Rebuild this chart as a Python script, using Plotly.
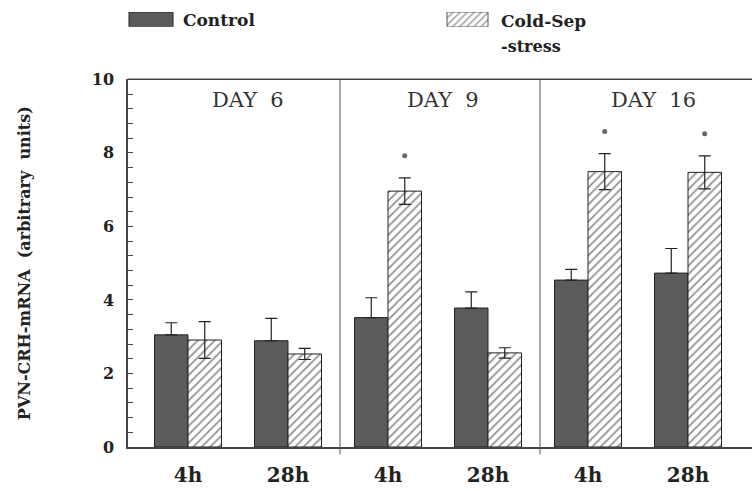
import plotly.graph_objects as go

# ---- data ----
days = ["DAY  6", "DAY  9", "DAY  16"]
times = ["4h", "28h", "4h", "28h", "4h", "28h"]
control = [3.05, 2.89, 3.52, 3.78, 4.54, 4.73]
control_err = [0.33, 0.61, 0.54, 0.44, 0.29, 0.67]
stress = [2.91, 2.53, 6.96, 2.56, 7.49, 7.47]
stress_err = [0.50, 0.15, 0.36, 0.14, 0.49, 0.45]
significant = [False, False, True, False, True, True]

pos = list(range(len(times)))
SERIF = "DejaVu Serif"

# layout geometry (figure pixels)
W, H = 752, 491
ML, MR, MT, MB = 128, 0, 5, 44
PLOT_TOP = 76
PH = H - MT - MB
main_top = (H - MB - PLOT_TOP) / PH


def py(p):  # figure pixel y -> paper y
    return (H - MB - p) / PH


def px(p):  # figure pixel x -> paper x
    return (p - ML) / (W - ML - MR)


fig = go.Figure()
fig.add_trace(go.Bar(
    x=pos, y=control, name="Control", offsetgroup="c",
    marker=dict(color="#5b5b5b", line=dict(color="#222", width=1)),
    error_y=dict(type="data", array=control_err, arrayminus=[0]*len(control),
                 symmetric=False, color="#222", thickness=1.2, width=6),
    showlegend=False,
))
fig.add_trace(go.Bar(
    x=pos, y=stress, name="Cold-Sep-stress", offsetgroup="s",
    marker=dict(color="white", line=dict(color="#222", width=1),
                pattern=dict(shape="/", fgcolor="#222", bgcolor="white", size=6, solidity=0.3)),
    error_y=dict(type="data", array=stress_err, color="#222", thickness=1.2, width=6),
    showlegend=False,
))

# significance markers
sx = [p + 0.167 for p, s in zip(pos, significant) if s]
sy = [v + e + 0.6 for v, e, s in zip(stress, stress_err, significant) if s]
fig.add_trace(go.Scatter(x=sx, y=sy, mode="markers",
                         marker=dict(symbol="circle", size=5, color="#666"),
                         showlegend=False, hoverinfo="skip"))

# day labels
day_x = [0.6, 2.55, 4.65]
for d, xx in zip(days, day_x):
    fig.add_annotation(x=xx, y=9.45, text=d, showarrow=False, xref="x", yref="y",
                       font=dict(family=SERIF, size=21, color="#333"))

# dividers between days
for xx in [1.52, 3.52]:
    fig.add_shape(type="line", xref="x", yref="y domain", x0=xx, x1=xx, y0=-0.02, y1=1,
                  line=dict(color="#555", width=1))
# top border
fig.add_shape(type="line", xref="x domain", yref="y domain", x0=0, x1=1, y0=1, y1=1,
              line=dict(color="#444", width=1.5))

# legend swatches (separate small axis in figure-pixel units)
fig.add_trace(go.Bar(x=[44], base=[129], y=[0], orientation="h", width=1, offset=-0.5,
                     marker=dict(color="#5b5b5b", line=dict(color="#222", width=1)),
                     xaxis="x2", yaxis="y2", showlegend=False, hoverinfo="skip"))
fig.add_trace(go.Bar(x=[41], base=[447], y=[0], orientation="h", width=1, offset=-0.5,
                     marker=dict(color="white", line=dict(color="#555", width=1),
                                 pattern=dict(shape="/", fgcolor="#444", bgcolor="white", size=5, solidity=0.3)),
                     xaxis="x2", yaxis="y2", showlegend=False, hoverinfo="skip"))
fig.add_annotation(x=px(181), y=py(16), xref="paper", yref="paper", text="<b>Control</b>",
                   showarrow=False, xanchor="left", yanchor="middle",
                   font=dict(family=SERIF, size=17, color="#222"))
fig.add_annotation(x=px(499), y=py(17), xref="paper", yref="paper", text="<b>Cold-Sep</b>",
                   showarrow=False, xanchor="left", yanchor="middle",
                   font=dict(family=SERIF, size=17, color="#222"))
fig.add_annotation(x=px(499), y=py(43), xref="paper", yref="paper", text="<b>-stress</b>",
                   showarrow=False, xanchor="left", yanchor="middle",
                   font=dict(family=SERIF, size=16, color="#222"))

fig.update_layout(
    width=W, height=H,
    margin=dict(l=ML, r=MR, t=MT, b=MB),
    paper_bgcolor="white", plot_bgcolor="white",
    barmode="group", bargap=0.33, bargroupgap=0,
    xaxis=dict(range=[-0.6, 5.64], tickvals=pos, ticktext=[f"<b>{t}</b>" for t in times],
               showgrid=False, zeroline=False, showline=True, linecolor="#444", linewidth=1.5,
               ticks="", ticklabelstandoff=9,
               tickfont=dict(family=SERIF, size=20, color="#222"), fixedrange=True),
    yaxis=dict(domain=[0, main_top], range=[0, 10], tickvals=[0, 2, 4, 6, 8, 10],
               ticktext=[f"<b>{v}</b>" for v in [0, 2, 4, 6, 8, 10]],
               showgrid=False, zeroline=False, showline=True, linecolor="#444", linewidth=1.5,
               ticks="inside", ticklen=5, tickcolor="#444", ticklabelstandoff=9,
               minor=dict(dtick=0.4, ticks="inside", ticklen=5, tickcolor="#444", showgrid=False),
               tickfont=dict(family=SERIF, size=16, color="#222"),
               title=dict(text="<b>PVN-CRH-mRNA  (arbitrary  units)</b>", standoff=57,
                          font=dict(family=SERIF, size=16, color="#222"))),
    xaxis2=dict(domain=[0, 1], range=[ML, W - MR], visible=False, fixedrange=True, anchor="y2"),
    yaxis2=dict(domain=[py(23), py(8)], range=[-0.5, 0.5], visible=False, fixedrange=True,
                anchor="x2"),
    showlegend=False,
)

fig.write_html("out.html")
